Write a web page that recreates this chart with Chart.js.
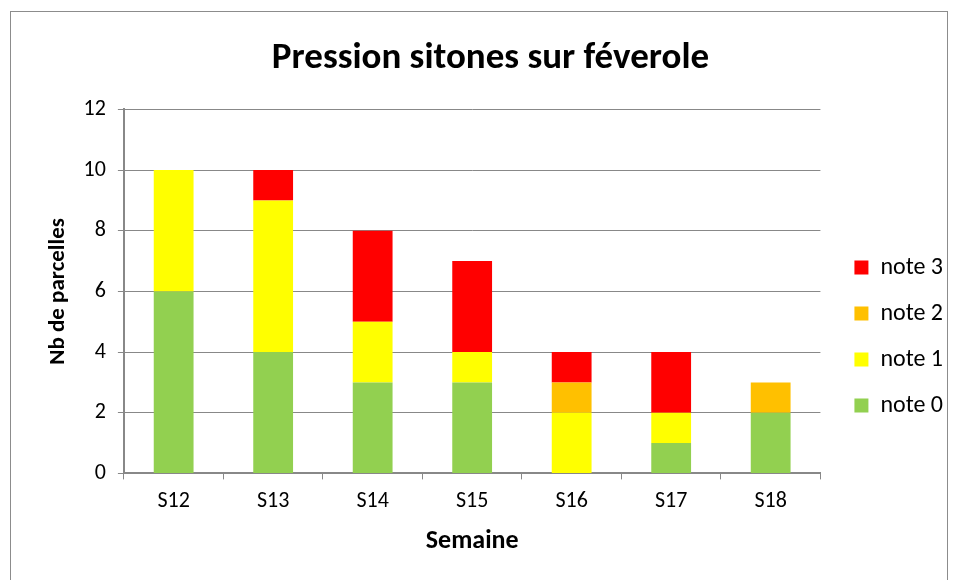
<!DOCTYPE html>
<html>
<head>
<meta charset="utf-8">
<script src="https://cdn.jsdelivr.net/npm/chart.js@4/dist/chart.umd.min.js"></script>
<style>
  body { margin: 0; background: #fff; }
  #wrap { width: 959px; height: 580px; position: relative; }
</style>
</head>
<body>
<div id="wrap"><canvas id="chart"></canvas></div>
<script>
const semaines = ['S12', 'S13', 'S14', 'S15', 'S16', 'S17', 'S18'];
const note0 = [6, 4, 3, 3, 0, 1, 2];
const note1 = [4, 5, 2, 1, 2, 1, 0];
const note2 = [0, 0, 0, 0, 1, 0, 1];
const note3 = [0, 1, 3, 3, 1, 2, 0];

const fontFamily = 'Carlito, Calibri, Lato, "Open Sans", sans-serif';

// outer frame around the chart
const framePlugin = {
  id: 'frame',
  beforeDraw(chart) {
    const ctx = chart.ctx;
    ctx.save();
    ctx.fillStyle = '#fff';
    ctx.fillRect(0, 0, chart.width, chart.height);
    ctx.strokeStyle = '#8c8c8c';
    ctx.lineWidth = 1;
    ctx.strokeRect(10.5, 11.5, 937, 575);
    ctx.restore();
  }
};

const ctx = document.getElementById('chart').getContext('2d');
new Chart(ctx, {
  type: 'bar',
  data: {
    labels: semaines,
    datasets: [
      { label: 'note 0', data: note0, backgroundColor: '#92D050' },
      { label: 'note 1', data: note1, backgroundColor: '#FFFF00' },
      { label: 'note 2', data: note2, backgroundColor: '#FFC000' },
      { label: 'note 3', data: note3, backgroundColor: '#FF0000' }
    ]
  },
  options: {
    responsive: true,
    maintainAspectRatio: false,
    animation: false,
    datasets: {
      bar: { barPercentage: 0.8, categoryPercentage: 0.5 }
    },
    layout: { padding: { left: 28, right: 6, top: 37, bottom: 18 } },
    plugins: {
      title: {
        display: true,
        text: 'Pression sitones sur féverole',
        color: '#000',
        font: { family: fontFamily, size: 37, weight: 'bold' },
        padding: { top: 0, bottom: 28 }
      },
      legend: {
        position: 'right',
        reverse: true,
        // empty title, just pushes the items down
        title: { display: true, text: '', font: { size: 10 }, padding: { top: 31, bottom: 31 } },
        labels: {
          color: '#000',
          boxWidth: 14,
          boxHeight: 14,
          padding: 22,
          font: { family: fontFamily, size: 24 }
        }
      },
      tooltip: { enabled: false }
    },
    scales: {
      x: {
        stacked: true,
        grid: {
          drawOnChartArea: false,
          drawTicks: true,
          tickLength: 6,
          color: '#888'
        },
        border: { color: '#888', width: 2 },
        ticks: { color: '#000', font: { family: fontFamily, size: 22 }, padding: 9 },
        title: {
          display: true,
          text: 'Semaine',
          color: '#000',
          font: { family: fontFamily, size: 26, weight: 'bold' },
          padding: { top: 2, bottom: 5 }
        }
      },
      y: {
        stacked: true,
        min: 0,
        max: 12,
        ticks: { stepSize: 2, color: '#000', font: { family: fontFamily, size: 22 }, padding: 12 },
        grid: { color: '#888', tickLength: 6 },
        border: { color: '#888', width: 2 },
        title: {
          display: true,
          text: 'Nb de parcelles',
          color: '#000',
          font: { family: fontFamily, size: 23, weight: 'bold' },
          padding: { top: 16, bottom: 0 }
        }
      },
      // empty right axis, only keeps a gap between the plot and the legend
      gap: {
        position: 'right',
        display: true,
        grid: { display: false },
        border: { display: false },
        ticks: { display: false },
        afterFit(scale) { scale.width = 12; }
      }
    }
  },
  plugins: [framePlugin]
});
</script>
</body>
</html>
